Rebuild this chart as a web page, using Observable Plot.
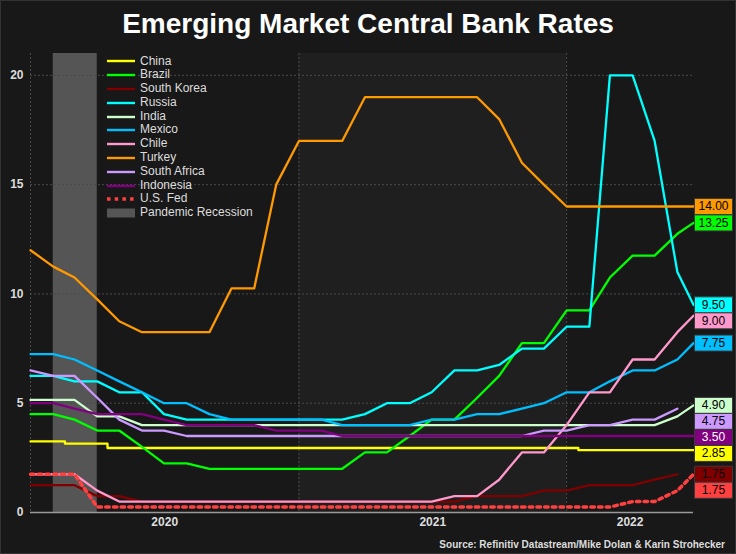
<!DOCTYPE html>
<html>
<head>
<meta charset="utf-8">
<script src="https://cdn.jsdelivr.net/npm/d3@7"></script>
<script src="https://cdn.jsdelivr.net/npm/@observablehq/plot@0.6"></script>
<style>
html, body { margin: 0; padding: 0; background: #181818; }
#wrap { position: relative; width: 736px; height: 554px; background: #181818; overflow: hidden;
  font-family: "Liberation Sans", Arial, sans-serif; }
#title { height: 44px; line-height: 44px; padding-top: 2px; box-sizing: border-box; text-align: center;
  color: #fff; font-weight: bold; font-size: 28px; white-space: nowrap; }
#chart svg { display: block; }
#legend { position: absolute; left: 107px; top: 54.5px; color: #ddd; font-size: 12px; }
#legend .row { height: 13.8px; line-height: 13.8px; display: flex; align-items: center; white-space: nowrap; }
#legend svg { display: block; margin-right: 5px; }
#caption { position: absolute; right: 11px; top: 539px; line-height: 12px; font-size: 10px; font-weight: bold; color: #ddd; white-space: nowrap; }
#frame { position: absolute; left: 0; top: 0; width: 736px; height: 554px; box-sizing: border-box; border: 1px solid #333; pointer-events: none; }
</style>
</head>
<body>
<div id="wrap">
  <div id="title">Emerging Market Central Bank Rates</div>
  <div id="chart"></div>
  <div id="legend"></div>
  <div id="caption">Source: Refinitiv Datastream/Mike Dolan &amp; Karin Strohecker</div>
  <div id="frame"></div>
</div>
<script>
// ---- Data (policy rates, %) ----
const dates = [
  "2020-01-01","2020-02-01","2020-03-01","2020-04-01","2020-05-01","2020-06-01",
  "2020-07-01","2020-08-01","2020-09-01","2020-10-01","2020-11-01","2020-12-01",
  "2021-01-01","2021-02-01","2021-03-01","2021-04-01","2021-05-01","2021-06-01",
  "2021-07-01","2021-08-01","2021-09-01","2021-10-01","2021-11-01","2021-12-01",
  "2022-01-01","2022-02-01","2022-03-01","2022-04-01","2022-05-01","2022-06-01",
  "2022-06-23"
];
const chinaDates = ["2020-01-01","2020-02-17","2020-04-15","2022-01-17","2022-06-23"];
const china = [3.25, 3.15, 2.95, 2.85, 2.85];
const brazil = [4.5,4.5,4.25,3.75,3.75,3.0,2.25,2.25,2.0,2.0,2.0,2.0,
  2.0,2.0,2.0,2.75,2.75,3.5,4.25,4.25,5.25,6.25,7.75,7.75,
  9.25,9.25,10.75,11.75,11.75,12.75,13.25];
const southKorea = [1.25,1.25,1.25,0.75,0.75,0.5,0.5,0.5,0.5,0.5,0.5,0.5,
  0.5,0.5,0.5,0.5,0.5,0.5,0.5,0.5,0.75,0.75,0.75,1.0,
  1.0,1.25,1.25,1.25,1.5,1.75];
const russia = [6.25,6.25,6.0,6.0,5.5,5.5,4.5,4.25,4.25,4.25,4.25,4.25,
  4.25,4.25,4.25,4.5,5.0,5.0,5.5,6.5,6.5,6.75,7.5,7.5,
  8.5,8.5,20,20,17,11,9.5];
const india = [5.15,5.15,5.15,4.4,4.4,4.0,4.0,4.0,4.0,4.0,4.0,4.0,
  4.0,4.0,4.0,4.0,4.0,4.0,4.0,4.0,4.0,4.0,4.0,4.0,
  4.0,4.0,4.0,4.0,4.0,4.4,4.9];
const mexico = [7.25,7.25,7.0,6.5,6.0,5.5,5.0,5.0,4.5,4.25,4.25,4.25,
  4.25,4.25,4.0,4.0,4.0,4.0,4.25,4.25,4.5,4.5,4.75,5.0,
  5.5,5.5,6.0,6.5,6.5,7.0,7.75];
const chile = [1.75,1.75,1.75,1.0,0.5,0.5,0.5,0.5,0.5,0.5,0.5,0.5,
  0.5,0.5,0.5,0.5,0.5,0.5,0.5,0.75,0.75,1.5,2.75,2.75,
  4.0,5.5,5.5,7.0,7.0,8.25,9.0];
const turkey = [12,11.25,10.75,9.75,8.75,8.25,8.25,8.25,8.25,10.25,10.25,15,
  17,17,17,19,19,19,19,19,19,18,16,15,
  14,14,14,14,14,14,14];
const southAfrica = [6.5,6.25,6.25,5.25,4.25,3.75,3.75,3.5,3.5,3.5,3.5,3.5,
  3.5,3.5,3.5,3.5,3.5,3.5,3.5,3.5,3.5,3.5,3.5,3.75,
  3.75,4.0,4.0,4.25,4.25,4.75];
const indonesia = [5.0,5.0,4.75,4.5,4.5,4.5,4.25,4.0,4.0,4.0,4.0,3.75,
  3.75,3.75,3.5,3.5,3.5,3.5,3.5,3.5,3.5,3.5,3.5,3.5,
  3.5,3.5,3.5,3.5,3.5,3.5,3.5];
const usFed = [1.75,1.75,1.75,0.25,0.25,0.25,0.25,0.25,0.25,0.25,0.25,0.25,
  0.25,0.25,0.25,0.25,0.25,0.25,0.25,0.25,0.25,0.25,0.25,0.25,
  0.25,0.25,0.25,0.5,0.5,1.0,1.75];

const seriesNames = ["China","Brazil","South Korea","Russia","India","Mexico","Chile","Turkey","South Africa","Indonesia","U.S. Fed"];
const seriesColors = ["#ffff00","#00ff00","#800000","#00ffff","#ccffcc","#00bfff","#ff99cc","#ff9900","#cc99ff","#800080","#ff4040"];
const labelTextColors = ["#000","#000","#000","#000","#000","#000","#000","#000","#000","#fff","#000"];
const recession = {label: "Pandemic Recession", start: "2020-02-01", end: "2020-04-01"};
const yTicks = [0, 5, 10, 15, 20];
const yearLabels = ["2020", "2021", "2022"];
const highlightYear = {start: "2021-01-01", end: "2022-01-01"};

// ---- Build tables ----
const parse = s => new Date(s + "T00:00:00Z");
const seriesValues = [china, brazil, southKorea, russia, india, mexico, chile, turkey, southAfrica, indonesia, usFed];
const series = seriesNames.map((name, i) => {
  const ds = name === "China" ? chinaDates : dates;
  const vals = seriesValues[i];
  return {name, color: seriesColors[i], textColor: labelTextColors[i],
    rows: vals.map((v, j) => ({date: parse(ds[j]), value: v}))};
});

const x0 = parse(dates[0]);
const x1 = parse(dates[dates.length - 1]);

// layout
const W = 736, H = 510, mL = 30, mR = 43, mT = 9, mB = 42;
const yMax = 21;
const pxPerUnit = (H - mT - mB) / yMax;
const gap = 16 / pxPerUnit;

// end labels with downward dodge
const labels = series.map(s => ({name: s.name, color: s.color, tc: s.textColor,
  value: s.rows[s.rows.length - 1].value}));
const sorted = labels.slice().sort((a, b) => b.value - a.value);
let prev = Infinity;
for (const l of sorted) { l.ly = Math.min(l.value, prev - gap); prev = l.ly; }

// year label positions (centre of each year's visible span)
const yearPos = yearLabels.map(y => {
  const a = Math.max(+parse(y + "-01-01"), +x0);
  const b = Math.min(+parse((+y + 1) + "-01-01"), +x1);
  return {label: y, date: new Date((a + b) / 2)};
});
const yearStarts = yearLabels.map(y => parse(y + "-01-01"));

const boxSymbol = {draw(ctx) { ctx.moveTo(-19, -8); ctx.lineTo(19, -8); ctx.lineTo(19, 8); ctx.lineTo(-19, 8); ctx.closePath(); }};

const lineMarks = series.map(s => Plot.line(s.rows, {
  x: "date", y: "value", stroke: s.color,
  strokeWidth: s.name === "U.S. Fed" ? 3.5 : 2.3,
  strokeDasharray: s.name === "U.S. Fed" ? "3.5,4.2" : null,
  curve: s.name === "China" ? "step-after" : "linear"
}));

const chart = Plot.plot({
  width: W, height: H,
  marginLeft: mL, marginRight: mR, marginTop: mT, marginBottom: mB,
  x: {type: "utc", domain: [x0, x1], axis: null},
  y: {domain: [0, yMax], axis: null},
  color: {type: "identity"},
  style: {background: "transparent", color: "#ddd", fontFamily: "'Liberation Sans', Arial, sans-serif", fontSize: "12px"},
  marks: [
    Plot.rect([highlightYear], {x1: d => parse(d.start), x2: d => parse(d.end), fill: "#1f1f1f"}),
    Plot.rect([recession], {x1: d => parse(d.start), x2: d => parse(d.end), fill: "#555555"}),
    Plot.ruleY(yTicks.filter(t => t > 0), {stroke: "#4a4a4a", strokeDasharray: "2,2"}),
    Plot.ruleX(yearStarts, {stroke: "#4a4a4a", strokeDasharray: "2,2"}),
    Plot.ruleY([0], {stroke: "#9a9a9a", strokeWidth: 1.5}),
    Plot.text(yTicks, {x: () => x0, y: d => d, text: d => String(d), textAnchor: "end", dx: -7,
      fontWeight: "bold", fontSize: 12, fill: "#ddd"}),
    Plot.text(yearPos, {x: "date", y: () => 0, text: "label", dy: 10, fontWeight: "bold", fontSize: 12, fill: "#ddd"}),
    ...lineMarks,
    Plot.dot(labels, {x: () => x1, y: "ly", symbol: boxSymbol, fill: "color", stroke: "#3a3a3a", strokeWidth: 1, dx: 20, r: 5}),
    Plot.text(labels, {x: () => x1, y: "ly", text: d => d3.format(".2f")(d.value), dx: 20, fill: "tc", fontSize: 12})
  ]
});
document.getElementById("chart").appendChild(chart);

// ---- Legend ----
const legend = document.getElementById("legend");
const swatch = (s) => {
  if (s.name === "U.S. Fed")
    return `<svg width="28" height="10"><line x1="0" y1="5" x2="28" y2="5" stroke="${s.color}" stroke-width="3.5" stroke-dasharray="3.5,4.2"/></svg>`;
  return `<svg width="28" height="10"><line x1="0" y1="5" x2="28" y2="5" stroke="${s.color}" stroke-width="2.4"/></svg>`;
};
let html = series.map(s => `<div class="row">${swatch(s)}<span>${s.name}</span></div>`).join("");
html += `<div class="row"><svg width="28" height="10"><rect x="0" y="0.5" width="28" height="9" fill="#555555"/></svg><span>${recession.label}</span></div>`;
legend.innerHTML = html;
</script>
</body>
</html>
